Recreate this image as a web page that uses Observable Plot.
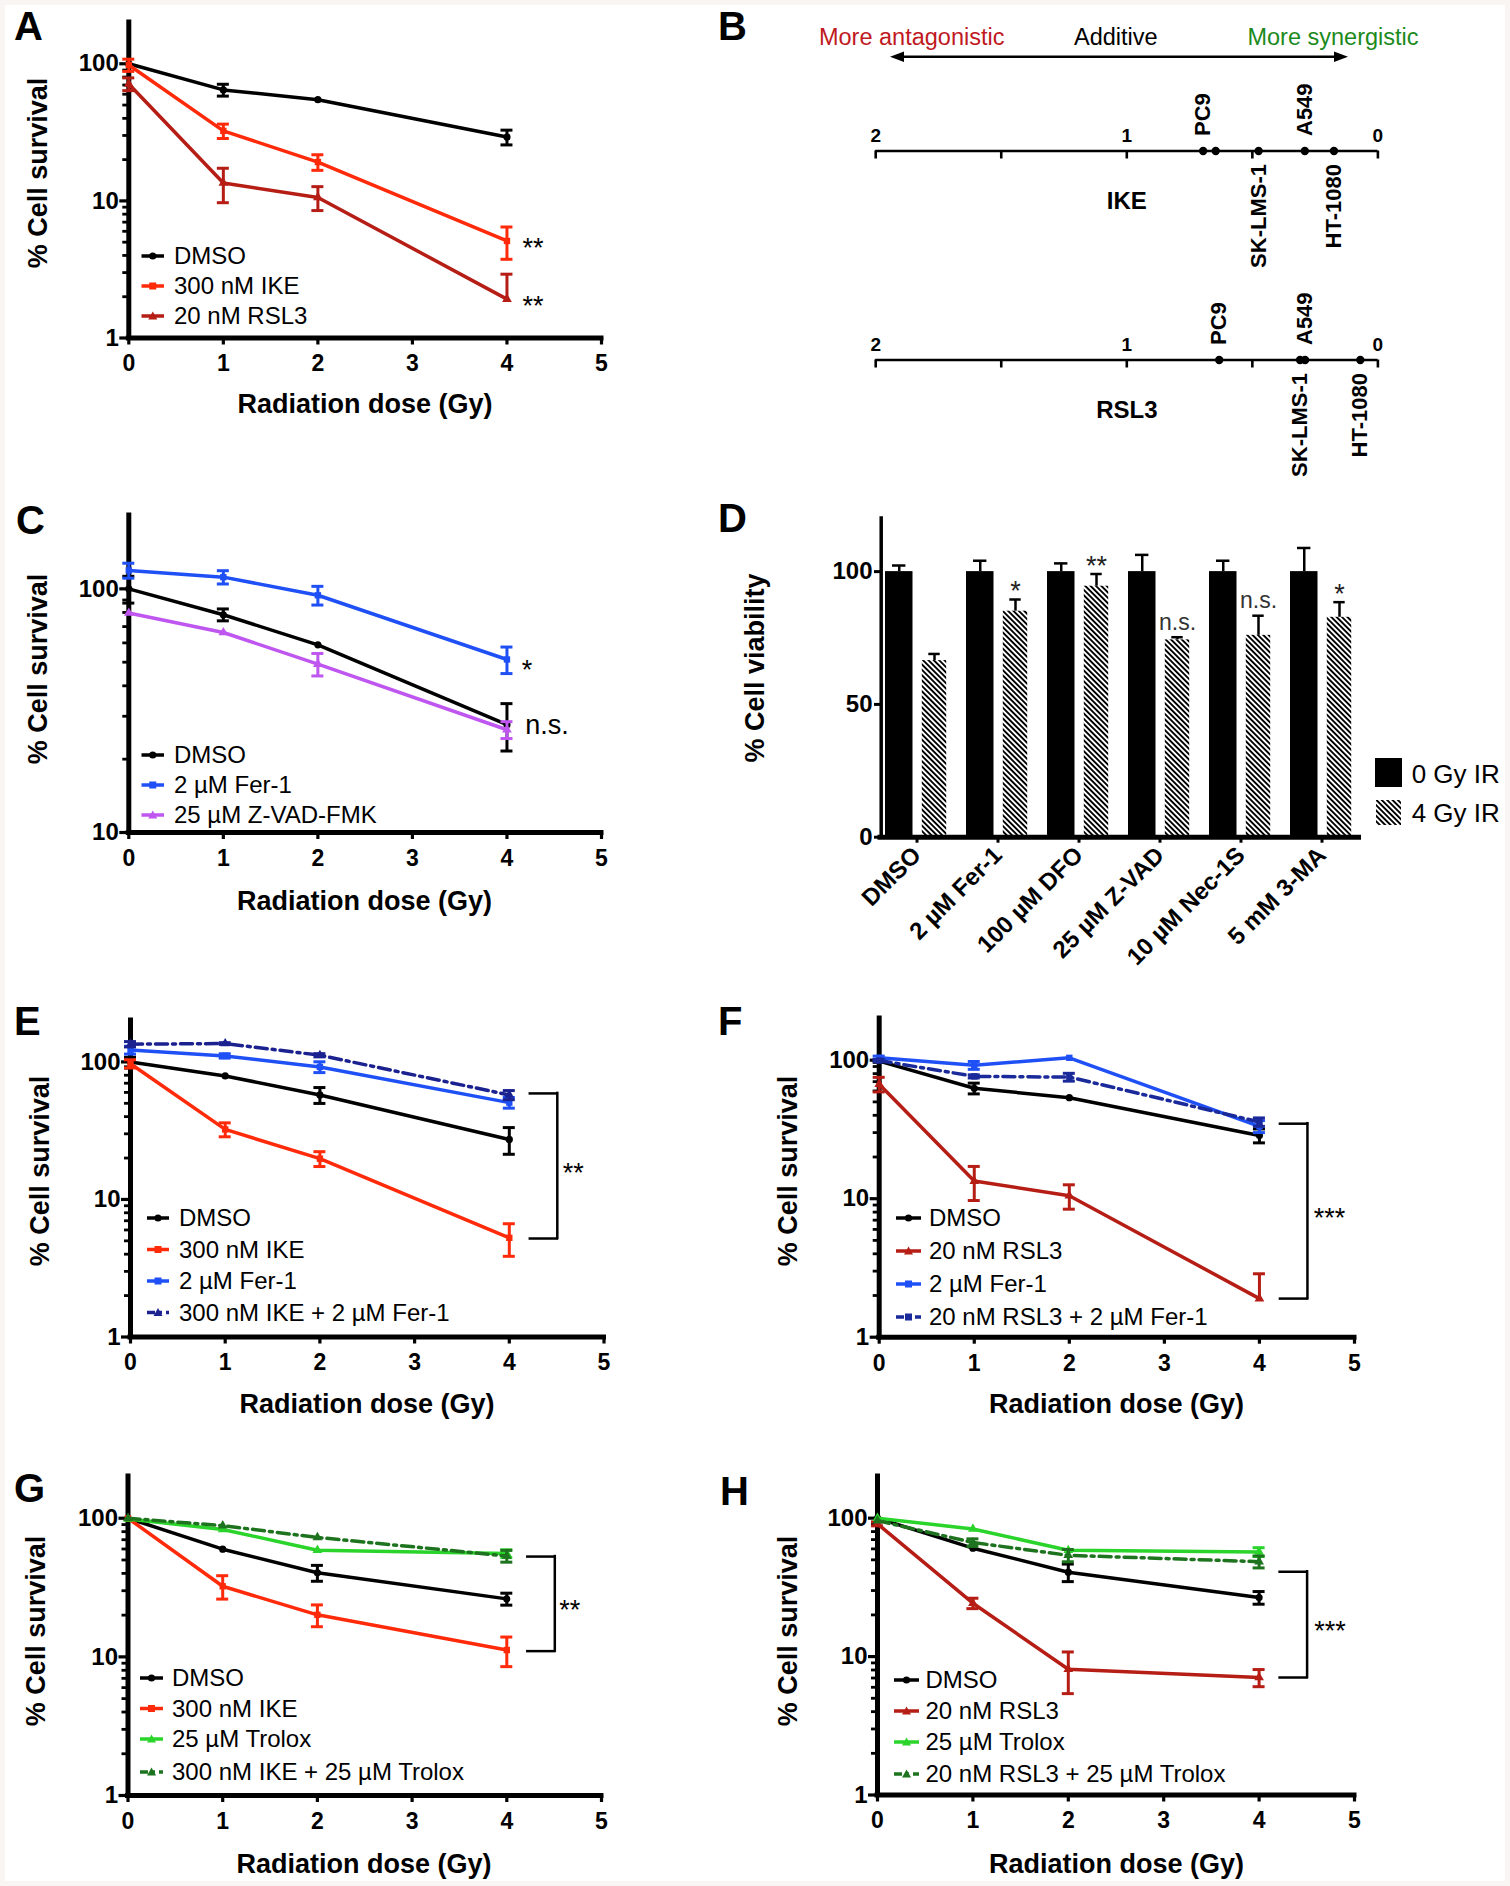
<!DOCTYPE html>
<html>
<head>
<meta charset="utf-8">
<script src="https://cdn.jsdelivr.net/npm/d3@7"></script>
<script src="https://cdn.jsdelivr.net/npm/@observablehq/plot@0.6"></script>
<style>
  html, body { margin: 0; padding: 0; background: #f8f5f3; overflow: hidden; }
  #fig { position: relative; width: 1510px; height: 1886px; overflow: hidden;
         font-family: "Liberation Sans", Arial, Helvetica, sans-serif; color: #000; }
  #sheet { position: absolute; left: 5px; top: 5px; width: 1500px; height: 1876px; background: #fff; }
  .panel { position: absolute; }
  .panel svg { display: block; overflow: visible; }
  .t { position: absolute; white-space: nowrap; line-height: 1; }
  #overlay { position: absolute; left: 0; top: 0; pointer-events: none; }
</style>
</head>
<body>
<div id="fig"><div id="sheet"></div></div>
<script>
const FONT = '"Liberation Sans", Arial, Helvetica, sans-serif';

// ====================== DATA ======================
const doses = [0, 1, 2, 4];
const doseTicks = [0, 1, 2, 3, 4, 5];
const logMajorA = [1, 10, 100];
const logMajorC = [10, 100];
const logMinor = [2, 3, 4, 5, 6, 7, 8, 9, 20, 30, 40, 50, 60, 70, 80, 90];

// Panel A
const A_names = ["DMSO", "300 nM IKE", "20 nM RSL3"];
const A_DMSO = [100, 64.5, 54.7, 29.2], A_DMSO_sem = [0, 6.4, 0, 3.6];
const A_IKE = [98, 32.4, 19.2, 5.1], A_IKE_sem = [10, 3.9, 2.5, 1.35];
const A_RSL3 = [71.3, 13.5, 10.6, 1.92], A_RSL3_sem = [7.6, 3.8, 2.1, [0, 1.0]];
const A_notes = ["", "**", "**"];

// Panel B
const bHeader = ["More antagonistic", "Additive", "More synergistic"];
const bDrugs = ["IKE", "RSL3"];
const bTickValues = [2, 1.5, 1, 0.5, 0];
const bTickLabels = ["2", "", "1", "", "0"];
const ikeCells = ["PC9", "", "SK-LMS-1", "A549", "HT-1080"];
const ikeScores = [0.696, 0.646, 0.475, 0.291, 0.175];
const ikeSide = ["above", "above", "below", "above", "below"];
const rsl3Cells = ["PC9", "SK-LMS-1", "A549", "HT-1080"];
const rsl3Scores = [0.632, 0.31, 0.29, 0.07];
const rsl3Side = ["above", "below", "above", "below"];

// Panel C
const C_names = ["DMSO", "2 µM Fer-1", "25 µM Z-VAD-FMK"];
const C_DMSO = [100, 78.3, 58.9, 27.7], C_DMSO_sem = [12.6, 4.4, 0, 6.1];
const C_FER = [119, 111.7, 94.1, 51.3], C_FER_sem = [8.4, 7, 8.3, 6.4];
const C_ZVAD = [79.6, 66.2, 49.1, 26.4], C_ZVAD_sem = [0, 0, 5.2, 2.1];
const C_notes = ["n.s.", "*", ""];

// Panel D
const dGroups = ["DMSO", "2 µM Fer-1", "100 µM DFO", "25 µM Z-VAD", "10 µM Nec-1S", "5 mM 3-MA"];
const dSeries = ["0 Gy IR", "4 Gy IR"];
const d0Gy = [100, 100, 100, 100, 100, 100];
const d0Gy_sem = [2.3, 4.1, 3.1, 6.3, 4.1, 8.9];
const d4Gy = [66.5, 85.1, 94.5, 74.3, 76.0, 82.8];
const d4Gy_sem = [2.5, 4.4, 4.6, 1.0, 7.4, 5.7];
const d4Gy_sig = ["", "*", "**", "n.s.", "n.s.", "*"];
const dYTicks = [0, 50, 100];

// Panel E
const E_names = ["DMSO", "300 nM IKE", "2 µM Fer-1", "300 nM IKE + 2 µM Fer-1"];
const E_DMSO = [100, 79.1, 57.5, 27.3], E_DMSO_sem = [8, 0, 7.6, 6.0];
const E_IKE = [97, 32.3, 19.8, 5.26], E_IKE_sem = [6.6, 3.75, 2.45, 1.4];
const E_FER = [122, 110.6, 91.9, 50.6], E_FER_sem = [8, 4, 8.3, 4.5];
const E_COMBO = [134.5, 136, 111.8, 57.5], E_COMBO_sem = [6, 2, 3, 4.4];
const E_bracket = [59, 5.2], E_bracketLabel = "**";

// Panel F
const F_names = ["DMSO", "20 nM RSL3", "2 µM Fer-1", "20 nM RSL3 + 2 µM Fer-1"];
const F_DMSO = [98.5, 62.7, 53.6, 28.6], F_DMSO_sem = [2, 5.6, 0, 3.3];
const F_RSL3 = [67.1, 13.4, 10.5, 1.9], F_RSL3_sem = [8.1, 3.7, 2.1, [0, 0.97]];
const F_FER = [104, 91.9, 104, 33.3], F_FER_sem = [3, 6, 0, 3.3];
const F_COMBO = [99.4, 76.4, 75.5, 35.8], F_COMBO_sem = [2, 2, 4.9, 2.5];
const F_bracket = [34.8, 1.9], F_bracketLabel = "***";

// Panel G
const G_names = ["DMSO", "300 nM IKE", "25 µM Trolox", "300 nM IKE + 25 µM Trolox"];
const G_DMSO = [100, 59.8, 40.4, 26.2], G_DMSO_sem = [0, 0, 5.3, 2.6];
const G_IKE = [100, 32.3, 20.1, 11.2], G_IKE_sem = [0, 6.2, 3.6, 2.7];
const G_TROLOX = [98.9, 83.0, 58.8, 55.6], G_TROLOX_sem = [0, 0, 0, 3.6];
const G_COMBO = [100, 88.4, 72.7, 53.4], G_COMBO_sem = [0, 0, 0, 5.2];
const G_bracket = [52.9, 11.0], G_bracketLabel = "**";

// Panel H
const H_names = ["DMSO", "20 nM RSL3", "25 µM Trolox", "20 nM RSL3 + 25 µM Trolox"];
const H_DMSO = [100, 60.7, 40.7, 26.7], H_DMSO_sem = [0, 0, 5.9, 2.8];
const H_RSL3 = [91, 24.3, 8.1, 7.06], H_RSL3_sem = [3, 2.1, 2.7, 1.0];
const H_TROLOX = [100, 83.6, 58.6, 57], H_TROLOX_sem = [0, 0, 0, 4.2];
const H_COMBO = [96, 66.7, 53.9, 48.5], H_COMBO_sem = [0, 4.2, 5.5, 4.8];
const H_bracket = [41, 7.06], H_bracketLabel = "***";

// ====================== STYLES ======================
const DASHDOT = "12,5,3,5";
const ST = {
  dmso:   {color: "#000000", symbol: "circle"},
  ike:    {color: "#ff2a0a", symbol: "square"},
  rsl3:   {color: "#b51d15", symbol: "triangle"},
  fer:    {color: "#1f50f5", symbol: "square"},
  zvad:   {color: "#bf56ef", symbol: "triangle"},
  ikeFer: {color: "#1b2290", symbol: "triangle", dash: DASHDOT},
  rslFer: {color: "#1b2a9a", symbol: "square", dash: DASHDOT},
  trolox: {color: "#2ad42a", symbol: "triangle"},
  combo:  {color: "#1e731e", symbol: "triangle", dash: DASHDOT}
};
const NOTE = {
  "**":  {dx: 26, dy: 7, size: 27},
  "*":   {dx: 20, dy: 11, size: 27},
  "n.s.": {dx: 40, dy: 1, size: 27}
};

function makeSeries(names, values, sems, styles, notes) {
  return names.map((name, i) => ({name, values: values[i], sem: sems[i], ...styles[i], note: notes ? notes[i] : ""}));
}

// ====================== HELPERS ======================
const fig = document.getElementById("fig");
const overlay = [];

function addPlot(svg, left, top) {
  const div = document.createElement("div");
  div.className = "panel";
  div.style.left = left + "px";
  div.style.top = top + "px";
  div.appendChild(svg);
  fig.appendChild(div);
}

function addText(str, x, y, o = {}) {
  const size = o.size || 24;
  const el = document.createElement("div");
  el.className = "t";
  el.textContent = str;
  el.style.fontSize = size + "px";
  el.style.fontWeight = o.weight || "normal";
  el.style.color = o.color || "#000";
  const cy = o.center ? y : y - 0.3465 * size;
  el.style.left = x + "px";
  el.style.top = cy + "px";
  const tx = o.anchor === "middle" ? "-50%" : o.anchor === "end" ? "-100%" : "0";
  el.style.transform = `translate(${tx}, -50%)` + (o.rotate ? ` rotate(${o.rotate}deg)` : "");
  fig.appendChild(el);
}

function markerSVG(symbol, cx, cy, color) {
  if (symbol === "square") return `<rect x="${cx - 3.5}" y="${cy - 3.5}" width="7" height="7" fill="${color}"/>`;
  if (symbol === "triangle") return `<path d="M${cx},${cy - 4.5}L${cx + 4.5},${cy + 3.5}L${cx - 4.5},${cy + 3.5}Z" fill="${color}"/>`;
  return `<circle cx="${cx}" cy="${cy}" r="3.6" fill="${color}"/>`;
}

const plotStyle = {fontFamily: FONT, fontSize: "23px", fontWeight: "bold", background: "transparent", overflow: "visible", color: "#000"};

// ====================== LINE PANELS ======================
function linePanel(cfg) {
  const [left, top, width, height] = cfg.box;
  const [mt, mr, mb, ml] = cfg.margin;
  const marks = [];
  const minor = logMinor.filter(v => v > cfg.yDomain[0] && v < cfg.yDomain[1]);
  marks.push(Plot.axisY(minor, {tickSize: 6, tickFormat: () => "", strokeWidth: 2.8, label: null}));
  marks.push(Plot.axisY(cfg.yMajor, {tickSize: 9, tickPadding: 1, tickFormat: d => String(d), strokeWidth: 3.2, fontSize: 24, fontWeight: "bold", label: null}));
  marks.push(Plot.axisX(doseTicks, {tickSize: 7, tickPadding: 10, strokeWidth: 3.2, fontSize: 23, fontWeight: "bold", label: null}));
  marks.push(Plot.ruleX([doseTicks[0]], {strokeWidth: 5, strokeLinecap: "square"}));
  marks.push(Plot.ruleY([cfg.yDomain[0]], {strokeWidth: 5, strokeLinecap: "square"}));

  for (const s of cfg.series) {
    const pts = doses.map((x, i) => {
      const e = s.sem[i];
      const [el, eh] = Array.isArray(e) ? e : [e, e];
      return {x, y: s.values[i], lo: s.values[i] - el, hi: s.values[i] + eh, el, eh};
    });
    marks.push(Plot.line(pts, {x: "x", y: "y", stroke: s.color, strokeWidth: 3.5, strokeDasharray: s.dash, strokeLinejoin: "round"}));
    const bars = pts.filter(d => d.el > 0 || d.eh > 0);
    marks.push(Plot.ruleX(bars, {x: "x", y1: "lo", y2: "hi", stroke: s.color, strokeWidth: 3}));
    marks.push(Plot.ruleY(bars.filter(d => d.eh > 0), {y: "hi", x1: "x", x2: "x", insetLeft: -6, insetRight: -6, stroke: s.color, strokeWidth: 3}));
    marks.push(Plot.ruleY(bars.filter(d => d.el > 0), {y: "lo", x1: "x", x2: "x", insetLeft: -6, insetRight: -6, stroke: s.color, strokeWidth: 3}));
    marks.push(Plot.dot(pts, {x: "x", y: "y", symbol: s.symbol, r: 3.6, fill: s.color, stroke: "none"}));
    if (s.note) {
      const n = NOTE[s.note];
      marks.push(Plot.text([pts[pts.length - 1]], {x: "x", y: "y", text: () => s.note, dx: n.dx, dy: n.dy, fontSize: n.size, fontWeight: "normal"}));
    }
  }

  if (cfg.bracket) {
    const b = {x: doses[doses.length - 1], top: cfg.bracket[0], bottom: cfg.bracket[1], label: cfg.bracketLabel};
    const bs = {stroke: "#000", strokeWidth: 2.5, strokeLinecap: "square"};
    marks.push(Plot.ruleX([b], {x: "x", y1: "top", y2: "bottom", dx: 48, ...bs}));
    marks.push(Plot.ruleY([b], {y: "top", x1: "x", x2: "x", insetLeft: 21, insetRight: -48, ...bs}));
    marks.push(Plot.ruleY([b], {y: "bottom", x1: "x", x2: "x", insetLeft: 21, insetRight: -48, ...bs}));
    marks.push(Plot.text([b], {x: "x", y: d => Math.sqrt(d.top * d.bottom), text: "label", dx: cfg.bracketDx, dy: 7, fontSize: 27, fontWeight: "normal"}));
  }

  const svg = Plot.plot({
    width, height, marginTop: mt, marginRight: mr, marginBottom: mb, marginLeft: ml,
    x: {type: "linear", domain: [0, 5], label: null},
    y: {type: "log", domain: cfg.yDomain, label: null},
    style: plotStyle,
    marks
  });
  addPlot(svg, left, top);

  // legend
  const L = cfg.legend;
  cfg.series.forEach((s, i) => {
    const y = L.rows[i];
    overlay.push(`<line x1="${L.x1}" x2="${L.x2}" y1="${y}" y2="${y}" stroke="${s.color}" stroke-width="3.5"${s.dash ? ` stroke-dasharray="8,4,3,4"` : ""}/>`);
    overlay.push(markerSVG(s.symbol, (L.x1 + L.x2) / 2, y, s.color));
    addText(s.name, L.tx, y, {size: 24, center: true});
  });
  // titles
  addText("Radiation dose (Gy)", cfg.xTitle[0], cfg.xTitle[1], {size: 27, weight: "bold", anchor: "middle"});
  addText("% Cell survival", cfg.yTitle[0], cfg.yTitle[1], {size: 27, weight: "bold", anchor: "middle", rotate: -90, center: true});
  addText(cfg.letter, cfg.letterPos[0], cfg.letterPos[1], {size: 40, weight: "bold"});
}

// Panel A
linePanel({
  letter: "A", letterPos: [14, 40],
  box: [0, 0, 720, 440], margin: [22, 119, 102.5, 128.3],
  yDomain: [1, 200], yMajor: logMajorA,
  series: makeSeries(A_names, [A_DMSO, A_IKE, A_RSL3], [A_DMSO_sem, A_IKE_sem, A_RSL3_sem], [ST.dmso, ST.ike, ST.rsl3], A_notes),
  legend: {rows: [256, 286, 316], x1: 141.5, x2: 164, tx: 174},
  xTitle: [365, 413], yTitle: [37.5, 172.5]
});

// Panel C
linePanel({
  letter: "C", letterPos: [16, 534],
  box: [0, 480, 720, 450], margin: [35, 119, 98, 128.3],
  yDomain: [10, 200], yMajor: logMajorC,
  series: makeSeries(C_names, [C_DMSO, C_FER, C_ZVAD], [C_DMSO_sem, C_FER_sem, C_ZVAD_sem], [ST.dmso, ST.fer, ST.zvad], C_notes),
  legend: {rows: [755, 785, 815], x1: 141.5, x2: 164, tx: 174},
  xTitle: [364.6, 910], yTitle: [37.5, 669]
});

// Panel E
linePanel({
  letter: "E", letterPos: [14, 1035],
  box: [0, 960, 720, 480], margin: [60, 116.5, 103.5, 130],
  yDomain: [1, 200], yMajor: logMajorA,
  series: makeSeries(E_names, [E_DMSO, E_IKE, E_FER, E_COMBO], [E_DMSO_sem, E_IKE_sem, E_FER_sem, E_COMBO_sem], [ST.dmso, ST.ike, ST.fer, ST.ikeFer]),
  bracket: E_bracket, bracketLabel: E_bracketLabel, bracketDx: 64,
  legend: {rows: [1218, 1249.5, 1281, 1312.5], x1: 147, x2: 169, tx: 179},
  xTitle: [367, 1413], yTitle: [39.5, 1171]
});

// Panel F
linePanel({
  letter: "F", letterPos: [718, 1035],
  box: [720, 960, 790, 480], margin: [58, 156, 103.3, 158.7],
  yDomain: [1, 200], yMajor: logMajorA,
  series: makeSeries(F_names, [F_DMSO, F_RSL3, F_FER, F_COMBO], [F_DMSO_sem, F_RSL3_sem, F_FER_sem, F_COMBO_sem], [ST.dmso, ST.rsl3, ST.fer, ST.rslFer]),
  bracket: F_bracket, bracketLabel: F_bracketLabel, bracketDx: 70,
  legend: {rows: [1218, 1251, 1284, 1317], x1: 896, x2: 921, tx: 929},
  xTitle: [1116.5, 1413], yTitle: [788, 1171]
});

// Panel G
linePanel({
  letter: "G", letterPos: [14, 1502],
  box: [0, 1440, 720, 446], margin: [36, 119, 91, 127.5],
  yDomain: [1, 200], yMajor: logMajorA,
  series: makeSeries(G_names, [G_DMSO, G_IKE, G_TROLOX, G_COMBO], [G_DMSO_sem, G_IKE_sem, G_TROLOX_sem, G_COMBO_sem], [ST.dmso, ST.ike, ST.trolox, ST.combo]),
  bracket: G_bracket, bracketLabel: G_bracketLabel, bracketDx: 63,
  legend: {rows: [1678, 1708.5, 1739, 1772], x1: 140, x2: 163, tx: 172},
  xTitle: [364, 1873], yTitle: [35.6, 1631]
});

// Panel H
linePanel({
  letter: "H", letterPos: [720, 1505],
  box: [720, 1440, 790, 446], margin: [36, 156, 91.5, 157],
  yDomain: [1, 200], yMajor: logMajorA,
  series: makeSeries(H_names, [H_DMSO, H_RSL3, H_TROLOX, H_COMBO], [H_DMSO_sem, H_RSL3_sem, H_TROLOX_sem, H_COMBO_sem], [ST.dmso, ST.rsl3, ST.trolox, ST.combo]),
  bracket: H_bracket, bracketLabel: H_bracketLabel, bracketDx: 71,
  legend: {rows: [1680, 1711, 1742, 1774], x1: 894, x2: 919, tx: 925.5},
  xTitle: [1116.5, 1873], yTitle: [788, 1631]
});

// ====================== PANEL B ======================
{
  const bRows = [
    ...ikeCells.map((c, i) => ({drug: bDrugs[0], cell: c, score: ikeScores[i], side: ikeSide[i]})),
    ...rsl3Cells.map((c, i) => ({drug: bDrugs[1], cell: c, score: rsl3Scores[i], side: rsl3Side[i]}))
  ];
  const bTickRows = bDrugs.flatMap(drug => bTickValues.map((v, i) => ({drug, v, label: bTickLabels[i]})));
  const zero = () => 0;
  const svg = Plot.plot({
    width: 790, height: 490, marginTop: 45.35, marginRight: 132.6, marginBottom: 26.05, marginLeft: 155.2,
    x: {domain: [2, 0], axis: null},
    y: {domain: [-1, 1], axis: null},
    fy: {domain: bDrugs, padding: 0, axis: null},
    style: plotStyle,
    marks: [
      Plot.ruleY(bDrugs, {fy: d => d, y: zero, strokeWidth: 2.6}),
      Plot.ruleX(bTickRows, {fy: "drug", x: "v", y1: zero, y2: zero, insetTop: 0, insetBottom: -8, strokeWidth: 2.6}),
      Plot.text(bTickRows.filter(d => d.label), {fy: "drug", x: "v", y: zero, text: "label", dy: -15, fontSize: 19}),
      Plot.dot(bRows, {fy: "drug", x: "score", y: zero, r: 4.2, fill: "#000"}),
      Plot.text(bRows.filter(d => d.cell && d.side === "above"), {fy: "drug", x: "score", y: zero, text: "cell", rotate: -90, textAnchor: "start", dy: -15, fontSize: 22}),
      Plot.text(bRows.filter(d => d.cell && d.side === "below"), {fy: "drug", x: "score", y: zero, text: "cell", rotate: -90, textAnchor: "end", dy: 13, fontSize: 22}),
      Plot.text(bDrugs, {fy: d => d, text: d => d, frameAnchor: "middle", dy: 50, fontSize: 24})
    ]
  });
  addPlot(svg, 720, 0);
  addText("B", 718, 40, {size: 40, weight: "bold"});
  addText(bHeader[0], 911.7, 46, {size: 23.5, anchor: "middle", color: "#c0191f"});
  addText(bHeader[1], 1115.8, 46, {size: 23.5, anchor: "middle"});
  addText(bHeader[2], 1333, 46, {size: 23.5, anchor: "middle", color: "#1c8a1c"});
  overlay.push(`<line x1="900" x2="1338" y1="56.7" y2="56.7" stroke="#000" stroke-width="2.6"/>`);
  overlay.push(`<path d="M890,56.7L904,51.5L904,61.9Z" fill="#000"/>`);
  overlay.push(`<path d="M1348,56.7L1334,51.5L1334,61.9Z" fill="#000"/>`);
}

// ====================== PANEL D ======================
{
  const dData = dGroups.map((g, i) => ({g, v0: d0Gy[i], e0: d0Gy_sem[i], v4: d4Gy[i], e4: d4Gy_sem[i], sig: d4Gy_sig[i]}));
  const svg = Plot.plot({
    width: 790, height: 520, marginTop: 38, marginRight: 151.5, marginBottom: 163.3, marginLeft: 160,
    x: {domain: dGroups, paddingInner: 0.12, paddingOuter: 0, label: null},
    y: {domain: [0, 120], label: null},
    style: plotStyle,
    marks: [
      () => {
        const ns = "http://www.w3.org/2000/svg";
        const defs = document.createElementNS(ns, "defs");
        defs.innerHTML = `<pattern id="hatchD" patternUnits="userSpaceOnUse" width="3.8" height="3.8" patternTransform="rotate(-45)"><rect width="3.8" height="3.8" fill="#fff"/><rect width="1.9" height="3.8" fill="#000"/></pattern>`;
        return defs;
      },
      Plot.barY(dData, {x: "g", y: "v0", fill: "#000", insetLeft: 4, insetRight: 39.5}),
      Plot.barY(dData, {x: "g", y: "v4", fill: "url(#hatchD)", insetLeft: 40.8, insetRight: 5.8}),
      Plot.ruleX(dData, {x: "g", y1: "v0", y2: d => d.v0 + d.e0, dx: -17.75, strokeWidth: 2.5}),
      Plot.tickY(dData, {x: "g", y: d => d.v0 + d.e0, insetLeft: 11, insetRight: 46.6, strokeWidth: 2.5}),
      Plot.ruleX(dData, {x: "g", y1: "v4", y2: d => d.v4 + d.e4, dx: 17.5, strokeWidth: 2.5}),
      Plot.tickY(dData, {x: "g", y: d => d.v4 + d.e4, insetLeft: 47.3, insetRight: 12.3, strokeWidth: 2.5}),
      Plot.text(dData.filter(d => d.sig.startsWith("*")), {x: "g", y: d => d.v4 + d.e4, text: "sig", dx: 17.5, dy: -8, fontSize: 27, fontWeight: "normal", fill: "#222"}),
      Plot.text(dData.filter(d => d.sig === "n.s."), {x: "g", y: d => d.v4 + d.e4, text: "sig", dx: 17.5, dy: -15, fontSize: 23, fontWeight: "normal", fill: "#333"}),
      Plot.ruleY([0], {strokeWidth: 5, strokeLinecap: "square"}),
      Plot.ruleX([dGroups[0]], {dx: -35.8, strokeWidth: 3.5, strokeLinecap: "square"}),
      Plot.axisY(dYTicks, {tickSize: 6, tickPadding: 2, fontSize: 24, fontWeight: "bold", strokeWidth: 3, label: null}),
      Plot.axisX({tickSize: 6, tickPadding: 8, tickRotate: -45, fontSize: 24, fontWeight: "bold", strokeWidth: 3, label: null})
    ]
  });
  addPlot(svg, 720, 480);
  addText("D", 718, 532, {size: 40, weight: "bold"});
  addText("% Cell viability", 755, 667.5, {size: 27, weight: "bold", anchor: "middle", rotate: -90, center: true});
  overlay.push(`<defs><pattern id="hatchL" patternUnits="userSpaceOnUse" width="3.8" height="3.8" patternTransform="rotate(-45)"><rect width="3.8" height="3.8" fill="#fff"/><rect width="1.9" height="3.8" fill="#000"/></pattern></defs>`);
  overlay.push(`<rect x="1375" y="758" width="27" height="29" fill="#000"/>`);
  overlay.push(`<rect x="1376" y="800" width="25" height="25" fill="url(#hatchL)"/>`);
  addText(dSeries[0], 1411.7, 783, {size: 26});
  addText(dSeries[1], 1411.7, 822, {size: 26});
}

// ====================== OVERLAY ======================
const ov = document.createElementNS("http://www.w3.org/2000/svg", "svg");
ov.setAttribute("id", "overlay");
ov.setAttribute("width", "1510");
ov.setAttribute("height", "1886");
ov.innerHTML = overlay.join("");
fig.appendChild(ov);
</script>
</body>
</html>
